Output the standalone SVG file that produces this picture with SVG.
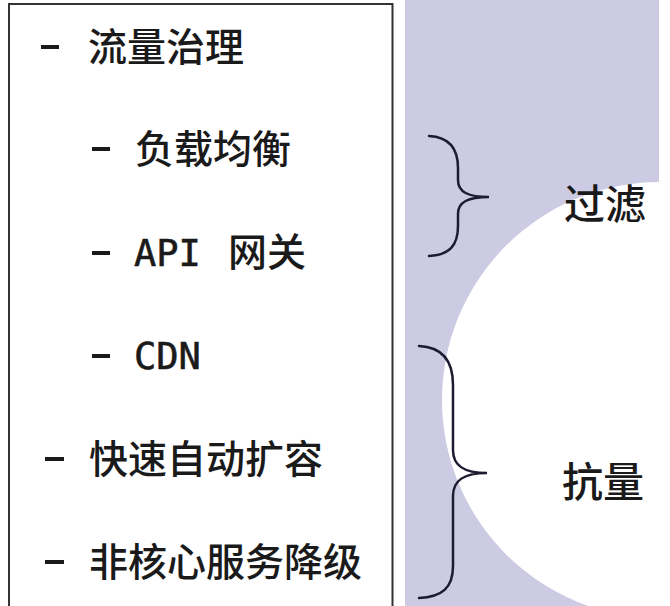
<svg xmlns="http://www.w3.org/2000/svg" width="670" height="606" viewBox="0 0 670 606">
<defs>
<style>
.t{font-family:"Noto Sans CJK SC","DejaVu Sans",sans-serif;font-size:39px;font-weight:500;fill:#1a1a1a}
.m{font-family:"DejaVu Sans Mono","Noto Sans CJK SC",monospace;font-size:37px;fill:#1a1a1a;stroke:#1a1a1a;stroke-width:0.6}
.d{stroke:#1a1a1a;stroke-width:4}
.brace{fill:none;stroke:#1c1c30;stroke-width:2.5;stroke-linecap:round}
.big{font-family:"Noto Sans CJK SC",sans-serif;font-size:41px;font-weight:500;fill:#1a1a1a}
</style>
<clipPath id="lav"><rect x="405" y="0" width="254" height="606"/></clipPath>
</defs>
<rect width="670" height="606" fill="#ffffff"/>
<g id="background">
<rect x="405" y="0" width="254" height="606" fill="#cccbe3"/>
<circle cx="660" cy="400" r="218" fill="#ffffff" clip-path="url(#lav)"/>
</g>
<g id="box">
<path d="M9 606 V4 H392.5 V606" fill="none" stroke="#333" stroke-width="2"/>
</g>
<g id="items">
<g id="item1"><line class="d" x1="41" y1="47" x2="59" y2="47"/><text class="t" x="88" y="61">流量治理</text></g>
<g id="item2"><line class="d" x1="92" y1="149" x2="110" y2="149"/><text class="t" x="135" y="163">负载均衡</text></g>
<g id="item3"><line class="d" x1="92" y1="253" x2="110" y2="253"/><text class="m" x="134" y="266">API</text><text class="t" x="228" y="266">网关</text></g>
<g id="item4"><line class="d" x1="92" y1="356" x2="110" y2="356"/><text class="m" x="134" y="369">CDN</text></g>
<g id="item5"><line class="d" x1="45" y1="459" x2="64" y2="459"/><text class="t" x="89" y="473">快速自动扩容</text></g>
<g id="item6"><line class="d" x1="45" y1="562" x2="64" y2="562"/><text class="t" x="89" y="576">非核心服务降级</text></g>
</g>
<g id="connectors">
<path class="brace" d="M429 136 C449 137 458 148 458 168 L458 180 C458 192 468 197 489 197 C468 197 458 202 458 214 L458 226 C458 246 449 255 429 256"/>
<path class="brace" d="M419 346 C442 347 453 360 453 385 L453 450 C453 466 464 473 487 473 C464 473 453 480 453 496 L453 566 C453 588 442 597 419 598"/>
</g>
<g id="labels">
<text class="big" x="564" y="219">过滤</text>
<text class="big" x="562" y="497">抗量</text>
</g>
</svg>
